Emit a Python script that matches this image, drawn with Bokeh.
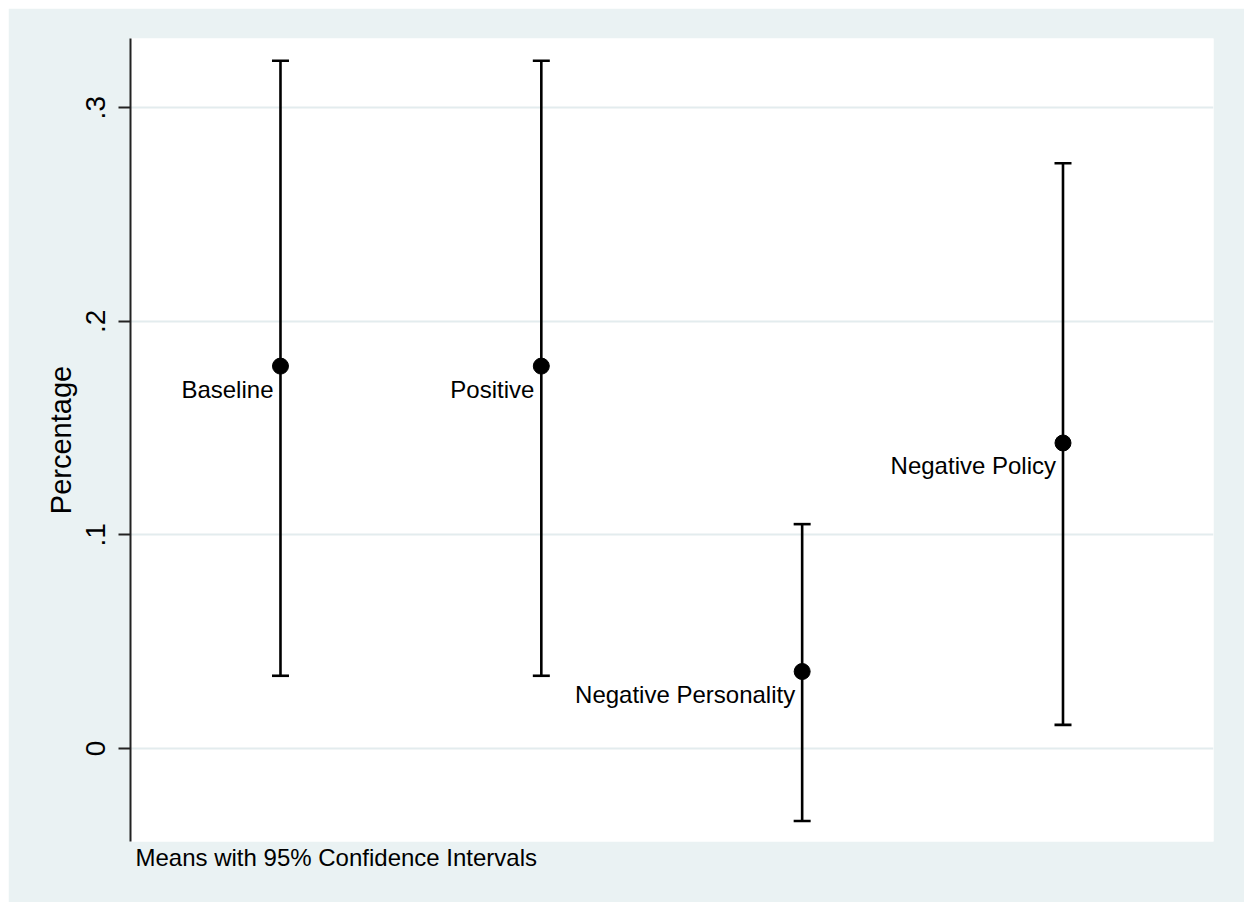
from bokeh.plotting import figure
from bokeh.models import (ColumnDataSource, Whisker, TeeHead, FixedTicker,
                          Range1d, Title, Spacer)
from bokeh.layouts import row, column
from bokeh.core.properties import value
from bokeh.embed import file_html
from bokeh.resources import INLINE

# Group means with 95% confidence intervals
groups = ["Baseline", "Positive", "Negative Personality", "Negative Policy"]
positions = [1, 2, 3, 4]
means = [0.179, 0.179, 0.036, 0.143]
ci_lower = [0.034, 0.034, -0.034, 0.011]
ci_upper = [0.322, 0.322, 0.105, 0.274]

y_ticks = [0, 0.1, 0.2, 0.3]
y_tick_labels = ["0", ".1", ".2", ".3"]

BG = "#eaf2f3"
GRID = "#e3ecee"
FONT = "Liberation Sans"

src = ColumnDataSource(dict(x=positions, mean=means, lo=ci_lower,
                            hi=ci_upper, name=groups))

p = figure(width=1236, height=894, output_backend="svg", toolbar_location=None,
           x_range=Range1d(0.425, 4.577), y_range=Range1d(-0.0436, 0.3324),
           min_border_left=122, min_border_right=31,
           min_border_top=30, min_border_bottom=61,
           background_fill_color="white", border_fill_color=BG,
           outline_line_color=None)

# y axis in the Stata style: rotated labels, outward ticks
ticker = FixedTicker(ticks=y_ticks)
p.yaxis.ticker = ticker
p.ygrid.ticker = ticker
p.yaxis.major_label_overrides = dict(zip(y_ticks, y_tick_labels))
p.yaxis.major_label_orientation = "vertical"
p.yaxis.major_label_text_font = FONT
p.yaxis.major_label_text_font_size = "28px"
p.yaxis.major_label_text_color = "black"
p.yaxis.major_label_standoff = 13
p.yaxis.axis_label = "Percentage"
p.yaxis.axis_label_text_font = FONT
p.yaxis.axis_label_text_font_size = "29px"
p.yaxis.axis_label_text_font_style = "normal"
p.yaxis.axis_label_text_color = "black"
p.yaxis.axis_label_standoff = 7
p.yaxis.axis_line_color = "#222222"
p.yaxis.axis_line_width = 2
p.yaxis.major_tick_line_color = "#222222"
p.yaxis.major_tick_line_width = 2
p.yaxis.major_tick_out = 12
p.yaxis.major_tick_in = 0
p.yaxis.minor_tick_line_color = None

p.xaxis.visible = False
p.xgrid.visible = False
p.ygrid.grid_line_color = GRID
p.ygrid.grid_line_width = 2

# confidence intervals
p.add_layout(Whisker(base="x", upper="hi", lower="lo", source=src,
                     line_color="black", line_width=2.6,
                     upper_head=TeeHead(size=17, line_color="black", line_width=2.6),
                     lower_head=TeeHead(size=17, line_color="black", line_width=2.6)))

# means
p.scatter("x", "mean", source=src, size=16, color="black")

# group labels, left of each mean and slightly below
p.text("x", "mean", text="name", source=src, text_align="right",
       text_baseline="alphabetic", x_offset=-7, y_offset=23,
       text_font=value(FONT), text_font_size="24px", text_color="black")

p.add_layout(Title(text="Means with 95% Confidence Intervals", align="left",
                   text_font=FONT, text_font_size="24px",
                   text_font_style="normal", text_color="black",
                   offset=5, standoff=1), "below")

layout = row(Spacer(width=8), column(Spacer(width=1236, height=8), p))

open("out.html", "w").write(file_html(layout, INLINE))
